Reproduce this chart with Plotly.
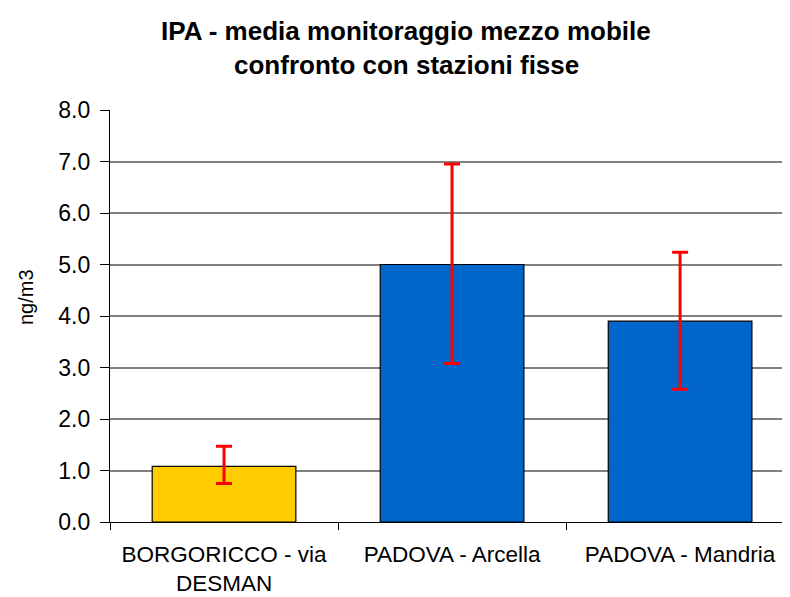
import plotly.graph_objects as go

categories = ["BORGORICCO - via<br>DESMAN", "PADOVA - Arcella", "PADOVA - Mandria"]
values = [1.08, 5.0, 3.9]
upper = [1.47, 6.95, 5.24]
lower = [0.75, 3.08, 2.58]
bar_colors = ["#FFCC00", "#0066CC", "#0066CC"]
y_ticks = [0, 1, 2, 3, 4, 5, 6, 7, 8]
y_tick_labels = ["0.0", "1.0", "2.0", "3.0", "4.0", "5.0", "6.0", "7.0", "8.0"]
title_lines = ["IPA - media monitoraggio mezzo mobile", "confronto con stazioni fisse"]
y_title = "ng/m3"

err_plus = [u - v for u, v in zip(upper, values)]
err_minus = [v - l for v, l in zip(values, lower)]

FONT = "Liberation Sans, Arial, sans-serif"
OFF = 8  # default page body margin
W, H = 790 - OFF, 597 - OFF
ML, MR, MT, MB = 110 - OFF, 0, 110 - OFF, 597 - 522
pw = W - ML - MR
ph = H - MT - MB


def px2paper(x, y):
    # x, y in window pixels
    x -= OFF
    y -= OFF
    return (x - ML) / pw, (H - MB - y) / ph


fig = go.Figure()
fig.add_trace(go.Bar(
    x=categories, y=values,
    marker=dict(color=bar_colors, line=dict(color="#000000", width=1.2)),
    width=0.63,
    error_y=dict(type="data", symmetric=False, array=err_plus, arrayminus=err_minus,
                 color="#FF0000", thickness=3, width=8),
    showlegend=False,
))

t1 = px2paper(406, 31)
t2 = px2paper(406, 65)
yt = px2paper(26, 297)

fig.update_layout(
    width=W, height=H,
    margin=dict(l=ML, r=MR, t=MT, b=MB),
    paper_bgcolor="white", plot_bgcolor="white",
    font=dict(family=FONT, size=22, color="#000000"),
    xaxis=dict(
        range=[-0.5, 2.482], automargin=False,
        showline=True, linecolor="#000000", linewidth=1.2,
        ticks="outside", tickson="boundaries", ticklen=7, tickcolor="#000000",
        ticklabelstandoff=12,
        tickfont=dict(size=22.5),
        showgrid=False,
    ),
    yaxis=dict(
        range=[0, 8], tickvals=y_ticks, ticktext=y_tick_labels, automargin=False,
        showline=True, linecolor="#000000", linewidth=1.2,
        ticks="outside", ticklen=9, tickcolor="#000000",
        ticklabelstandoff=5,
        showgrid=True, gridcolor="#808080", gridwidth=1.5,
        zeroline=False,
        tickfont=dict(size=23),
    ),
    annotations=[
        dict(text="<b>" + title_lines[0] + "</b>", x=t1[0], y=t1[1], xref="paper", yref="paper",
             xanchor="center", yanchor="middle", showarrow=False, font=dict(size=26)),
        dict(text="<b>" + title_lines[1] + "</b>", x=t2[0], y=t2[1], xref="paper", yref="paper",
             xanchor="center", yanchor="middle", showarrow=False, font=dict(size=26)),
        dict(text=y_title, x=yt[0], y=yt[1], xref="paper", yref="paper", textangle=-90,
             xanchor="center", yanchor="middle", showarrow=False, font=dict(size=20)),
    ],
)

fig.write_html("out.html")
